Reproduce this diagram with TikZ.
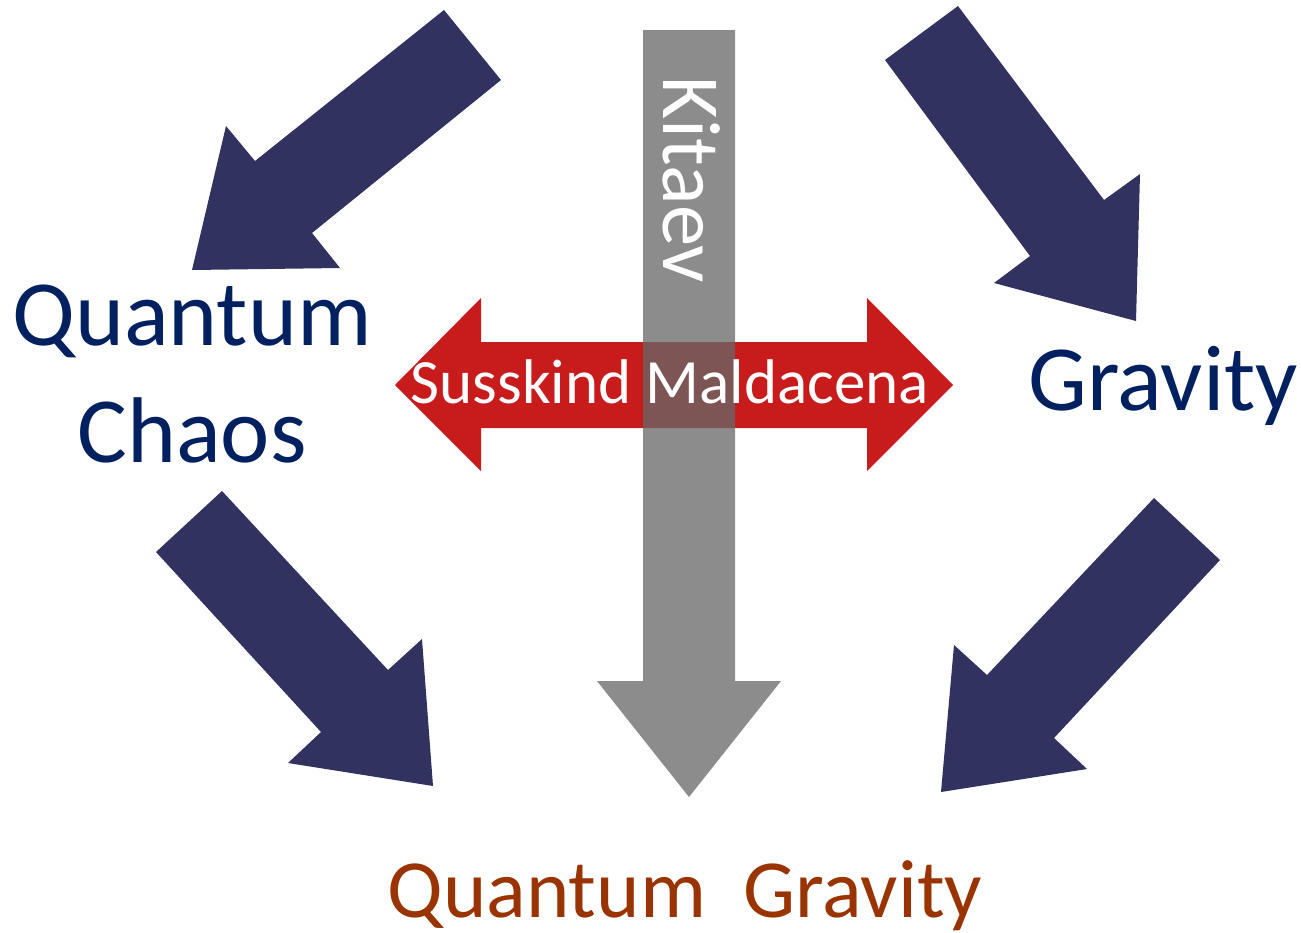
\documentclass[tikz,border=0pt]{standalone}
\usepackage{fontspec}
\setmainfont{Carlito}
\definecolor{navyarrow}{RGB}{50,50,96}
\definecolor{navytext}{RGB}{0,32,96}
\definecolor{brown}{RGB}{153,51,0}
\definecolor{redarrow}{RGB}{200,28,28}
\definecolor{grayarrow}{RGB}{104,104,104}
\begin{document}
\begin{tikzpicture}[x=0.75pt,y=-0.75pt,
  navy/.style={fill=navyarrow,draw=none},
  bigtext/.style={font=\fontsize{70}{80}\selectfont,inner sep=0pt,anchor=base},
  whitetext/.style={font=\fontsize{47.3}{56}\selectfont,inner sep=0pt,text=white,anchor=base}]
\useasboundingbox (0,0) rectangle (1301,932);
% navy arrows
\fill[navy] (444,10) -- (501,80) -- (312,233) -- (340,268) -- (192,270) -- (226,126) -- (255,161) -- cycle;
\fill[navy] (958,6) -- (1104,200) -- (1140,174) -- (1136,321) -- (994,283) -- (1030,256) -- (885,60) -- cycle;
\fill[navy] (222,491) -- (388,670) -- (422,639) -- (433,786) -- (288,763) -- (321,732) -- (156,552) -- cycle;
\fill[navy] (1154,498) -- (1220,560) -- (1054,738) -- (1087,769) -- (941,792) -- (954,645) -- (987,675) -- cycle;
% red double arrow
\fill[redarrow] (395,385) -- (481,298) -- (481,342) -- (867,342) -- (867,298) -- (953,385) -- (867,471) -- (867,428) -- (481,428) -- (481,471) -- cycle;
% gray arrow
\fill[grayarrow,fill opacity=0.76] (643,30) -- (735,30) -- (735,681) -- (781,681) -- (689,797) -- (597,681) -- (643,681) -- cycle;
% texts
\node[bigtext,text=navytext] (qc1) at (192,345) {Quantum};
\node[bigtext,text=navytext] (qc2) at (192,462) {Chaos};
\node[bigtext,text=navytext] (gr) at (1163,410) {Gravity};
\node[font=\fontsize{62}{70}\selectfont,inner sep=0pt,anchor=base,text=brown] (qg) at (685,917) {Quantum\ \ Gravity};
\node[whitetext] (sm) at (670,403) {Susskind Maldacena};
\node[font=\fontsize{62}{70}\selectfont,inner sep=0pt,text=white,rotate=-90,anchor=base] (kt) at (663,180) {Kitaev};
\end{tikzpicture}
\end{document}
